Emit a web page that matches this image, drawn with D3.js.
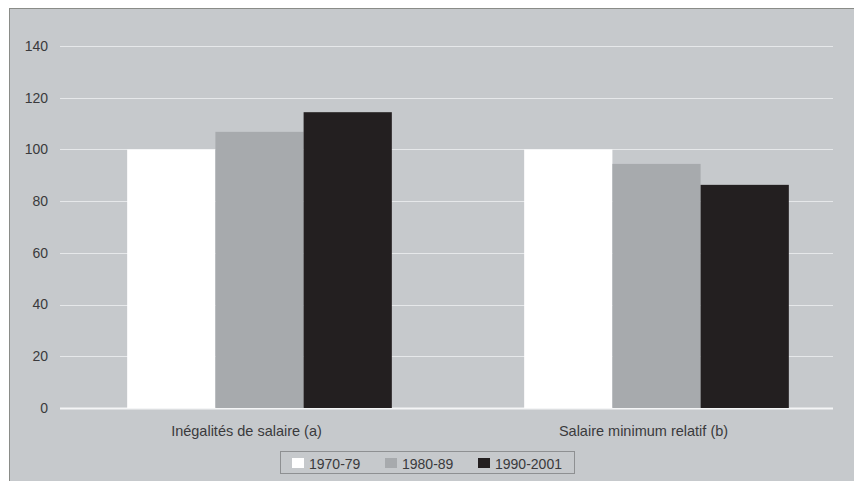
<!DOCTYPE html>
<html><head><meta charset="utf-8">
<script src="https://cdn.jsdelivr.net/npm/d3@7"></script>
<style>body{margin:0;background:#fff;}svg{display:block;font-family:"Liberation Sans",Arial,sans-serif;}</style>
</head><body><svg id="c" width="854" height="481"></svg>
<script>
const categories = ["Inégalités de salaire (a)", "Salaire minimum relatif (b)"];
const seriesNames = ["1970-79", "1980-89", "1990-2001"];
const s1970 = [100, 100];
const s1980 = [106.8, 94.4];
const s1990 = [114.4, 86.3];
const yTicks = [0, 20, 40, 60, 80, 100, 120, 140];
const colors = ["#ffffff", "#a7aaad", "#231f20"];
const seriesValues = [s1970, s1980, s1990];

const svg = d3.select("#c");
// panel
svg.append("rect").attr("x", 9.5).attr("y", 8.5).attr("width", 850).attr("height", 480)
  .attr("fill", "#c6c9cc").attr("stroke", "#8a8c88").attr("stroke-width", 1);

const y = d3.scaleLinear().domain([0, 140]).range([408, 46]);
const x0 = d3.scaleBand().domain(categories).range([61, 855]).padding(0);
const x1 = d3.scaleBand().domain(seriesNames).range([0, x0.bandwidth()]).paddingInner(0).paddingOuter(0.75);

// gridlines
svg.append("g").selectAll("line").data(yTicks).join("line")
  .attr("x1", 60).attr("x2", 833)
  .attr("y1", d => Math.round(y(d)) + 0.5).attr("y2", d => Math.round(y(d)) + 0.5)
  .attr("stroke", d => d === 0 ? "#f4f5f6" : "#e6e8ea").attr("stroke-width", d => d === 0 ? 2 : 1);

// y labels
svg.append("g").selectAll("text").data(yTicks).join("text")
  .attr("x", 48).attr("y", d => y(d)).attr("dy", "0.35em").attr("text-anchor", "end")
  .attr("font-size", 14).attr("fill", "#3a3a3c").text(d => d);

// bars
const g = svg.append("g");
categories.forEach((c, i) => {
  seriesNames.forEach((s, j) => {
    const v = seriesValues[j][i];
    g.append("rect")
      .attr("x", x0(c) + x1(s)).attr("width", x1.bandwidth())
      .attr("y", y(v)).attr("height", y(0) - y(v))
      .attr("fill", colors[j]);
  });
});

// category labels
svg.append("g").selectAll("text").data(categories).join("text")
  .attr("x", d => x0(d) + x0.bandwidth() / 2 - 13).attr("y", 436)
  .attr("text-anchor", "middle").attr("font-size", 14.5).attr("fill", "#3a3a3c").text(d => d);

// legend
const lg = svg.append("g");
lg.append("rect").attr("x", 280.5).attr("y", 451.5).attr("width", 294).attr("height", 22)
  .attr("fill", "#c6c9cc").attr("stroke", "#8e9092");
const lx = [292, 385, 478];
seriesNames.forEach((s, j) => {
  lg.append("rect").attr("x", lx[j]).attr("y", 458).attr("width", 12).attr("height", 10).attr("fill", colors[j]);
  lg.append("text").attr("x", lx[j] + 17).attr("y", 469).attr("font-size", 14).attr("fill", "#3a3a3c").text(s);
});
</script></body></html>
